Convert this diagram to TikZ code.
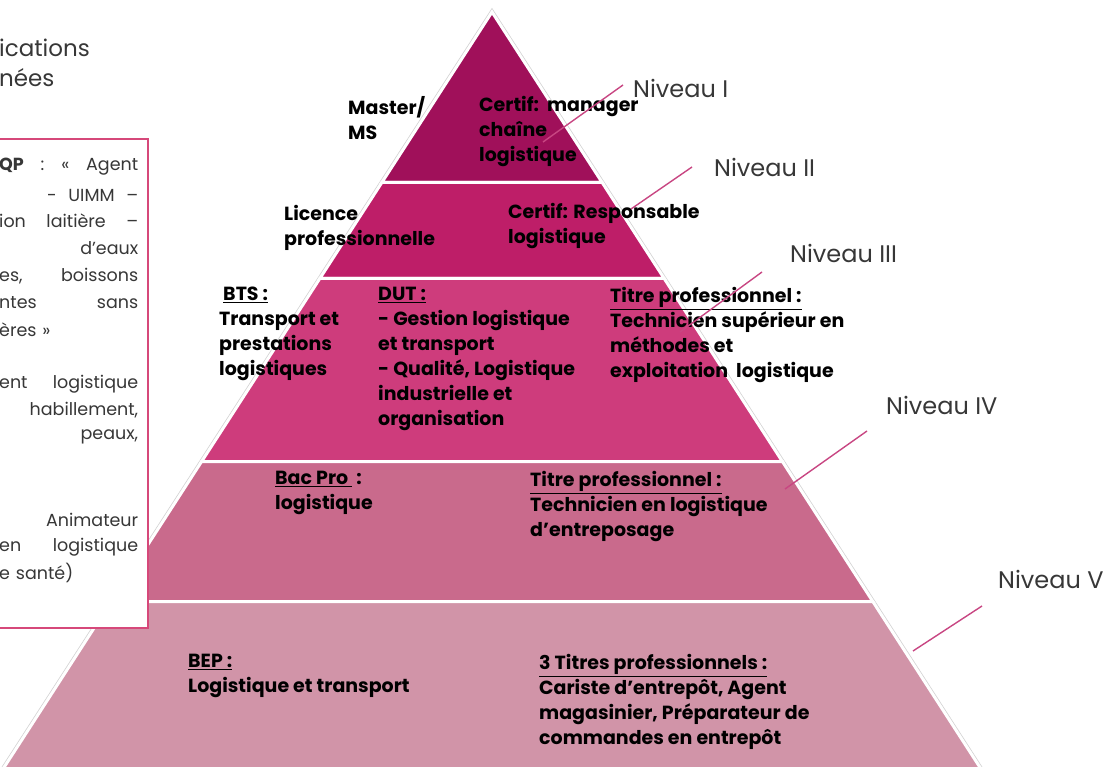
\documentclass[tikz,border=0pt]{standalone}
\usepackage{fontspec}
\setmainfont{Poppins}
\usetikzlibrary{calc}
\definecolor{tierA}{RGB}{160,16,90}
\definecolor{tierB}{RGB}{190,30,104}
\definecolor{tierC}{RGB}{206,60,124}
\definecolor{tierD}{RGB}{201,106,140}
\definecolor{tierE}{RGB}{209,148,168}
\definecolor{leader}{RGB}{200,70,130}
\definecolor{boxline}{RGB}{214,72,122}
\definecolor{niv}{RGB}{55,55,55}
\def\tier[#1](#2:#3){\draw[#1] ({492-0.646*(#2-12)},#2) -- ({492+0.646*(#2-12)},#2) -- ({492+0.646*(#3-12)},#3) -- ({492-0.646*(#3-12)},#3) -- cycle;}

\begin{document}
\begin{tikzpicture}[x=1pt,y=-1pt,
	lbl/.style={anchor=north west, inner sep=0, align=left, font=\bfseries\fontsize{19}{25}\selectfont},
	nivlbl/.style={anchor=west, inner sep=0, text=niv, font=\fontsize{24}{28}\selectfont},
	boxtxt/.style={anchor=west, inner sep=0, text width=139pt, text=niv, font=\fontsize{17.5}{21}\selectfont}]
			%%%%% START %%%%%
			\useasboundingbox (0,0) rectangle (1112,767);
			\clip (0,0) rectangle (1112,767);
			
			% pyramid
			\draw[gray!35, line width=4.5] (492,12) -- ({492+0.646*800},812) -- ({492-0.646*800},812) -- cycle;
			\tier[fill=tierA, draw=white, line width=3](12:182.5);
			\tier[fill=tierB, draw=white, line width=3](182.5:278.5);
			\tier[fill=tierC, draw=white, line width=3](278.5:461.5);
			\tier[fill=tierD, draw=white, line width=3](461.5:601.5);
			\tier[fill=tierE, draw=white, line width=3](601.5:812);
			
			% left box
			\draw[boxline, fill=white, line width=2] (-10,139) rectangle (148,628);
			\node[boxtxt] (b1) at (-1,167) {\textbf{QP}\hfill:\hfill«\hfill Agent};
			\node[boxtxt] (b2) at (-1,195) {\hfill -\ \ UIMM\ \ –};
			\node[boxtxt] (b3) at (-1,221) {ion\hfill laitière\hfill –};
			\node[boxtxt] (b4) at (-1,248) {\hfill d’eaux};
			\node[boxtxt] (b5) at (-1,276) {es,\hfill boissons};
			\node[boxtxt] (b6) at (-1,303) {ntes\hfill sans};
			\node[boxtxt] (b7) at (-1,330) {ères »};
			\node[boxtxt] (b8) at (-1,384) {ent\hfill logistique};
			\node[boxtxt] (b9) at (-1,410) {\hfill habillement,};
			\node[boxtxt] (b10) at (-1,437) {\hfill peaux,};
			\node[boxtxt] (b11) at (-1,520) {\hfill Animateur};
			\node[boxtxt] (b12) at (-1,547) {en\hfill logistique};
			\node[boxtxt] (b13) at (-1,573) {e santé)};
			
			% top left
			\node[nivlbl, font=\fontsize{23}{27}\selectfont] (ttl1) at (-1,48) {ications};
			\node[nivlbl, font=\fontsize{23}{27}\selectfont] (ttl2) at (-1,78) {nées};
			
			% tier texts
			\node[lbl] (master) at (348,96) {Master/\\MS};
			\node[lbl] (certA) at (479,96) {Certif:\ \ manager\\chaîne\\logistique};
			\node[lbl] (licence) at (284,205) {Licence\\professionnelle};
			\node[lbl] (certB) at (508,203) {Certif: Responsable\\logistique};
			\node[lbl] (bts) at (219,287) {\ \underline{BTS :}\\Transport et\\prestations\\logistiques};
			\node[lbl] (dut) at (378,287) {\underline{DUT :}\\- Gestion logistique\\et transport\\- Qualité, Logistique\\industrielle et\\organisation};
			\node[lbl] (titreA) at (610,287) {\underline{Titre professionnel :}\\Technicien supérieur en\\méthodes et\\exploitation\ \ logistique};
			\node[lbl] (bacpro) at (275,471) {\underline{Bac Pro\ }\ :\\logistique};
			\node[lbl] (titreB) at (530,471) {\underline{Titre professionnel :}\\Technicien en logistique\\d’entreposage};
			\node[lbl] (bep) at (188,654) {\underline{BEP :}\\Logistique et transport};
			\node[lbl] (titreC) at (539,654) {\underline{3 Titres professionnels :}\\Cariste d’entrepôt, Agent\\magasinier, Préparateur de\\commandes en entrepôt};
			
			% levels
			\node[nivlbl] (niv1) at (633,88) {Niveau I};
			\node[nivlbl] (niv2) at (714,167) {Niveau II};
			\node[nivlbl] (niv3) at (790,253) {Niveau III};
			\node[nivlbl] (niv4) at (886,405) {Niveau IV};
			\node[nivlbl] (niv5) at (998,579) {Niveau V};
			\coordinate (n1) at (623,85);   \coordinate (p1) at (543,142);
			\coordinate (n2) at (692,167);  \coordinate (p2) at (631,209);
			\coordinate (n3) at (762,272);  \coordinate (p3) at (680,332);
			\coordinate (n4) at (867,431);  \coordinate (p4) at (785,489);
			\coordinate (n5) at (982,606);  \coordinate (p5) at (913,651);
			\draw[leader, line width=1.4] (n1) -- (p1);
			\draw[leader, line width=1.4] (n2) -- (p2);
			\draw[leader, line width=1.4] (n3) -- (p3);
			\draw[leader, line width=1.4] (n4) -- (p4);
			\draw[leader, line width=1.4] (n5) -- (p5);
			%%%%% END %%%%%
\end{tikzpicture}
\end{document}
